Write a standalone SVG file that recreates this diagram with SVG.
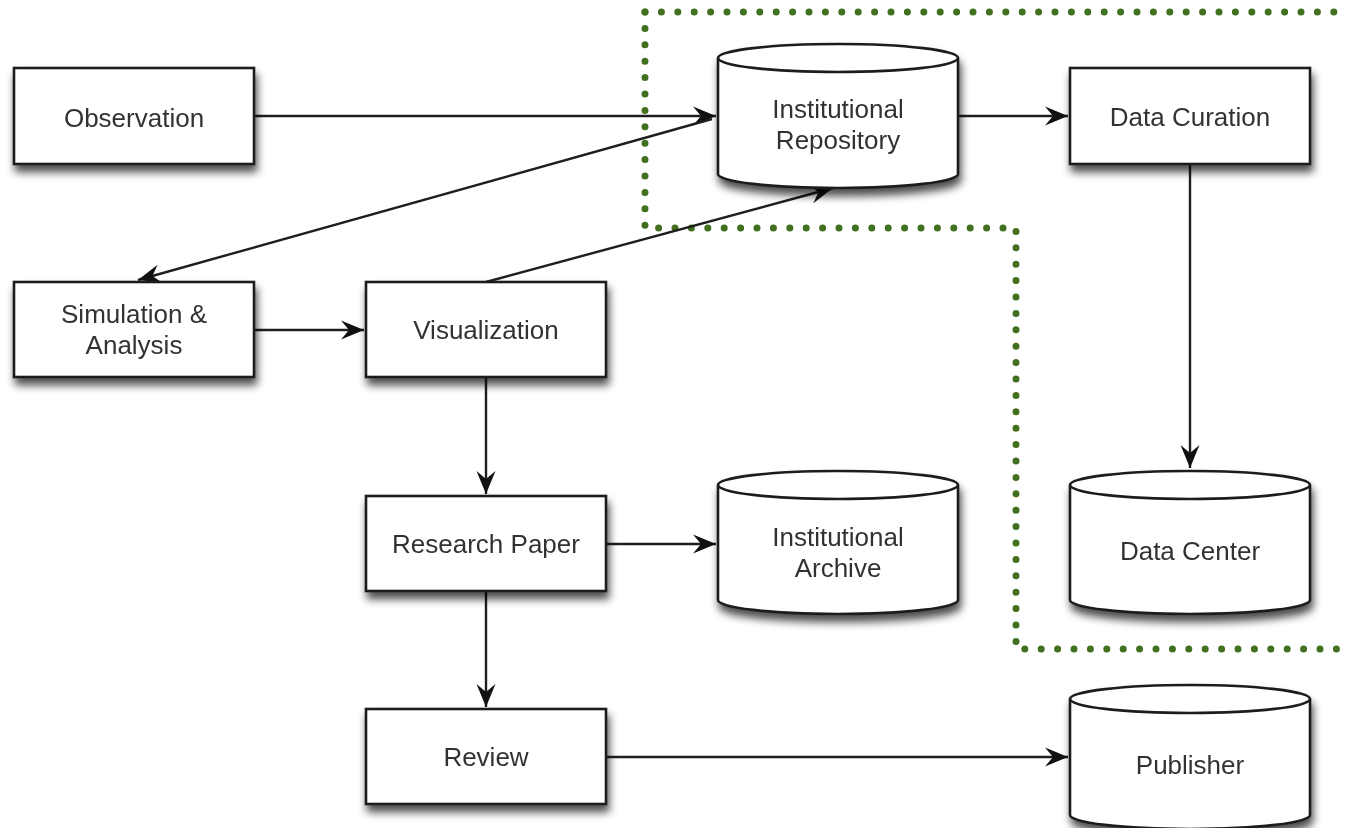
<svg xmlns="http://www.w3.org/2000/svg" width="1350" height="828" viewBox="0 0 1350 828">
<style>
.box{fill:#fff;stroke:#1e1e1e;stroke-width:2.6}
.cyl{fill:#fff;stroke:#1e1e1e;stroke-width:2.6}
.rim{fill:none;stroke:#1e1e1e;stroke-width:2.6}
.lbl{font-family:"Liberation Sans",Arial,Helvetica,sans-serif;font-size:26px;fill:#333;text-anchor:middle}
.conn{fill:none;stroke:#1e1e1e;stroke-width:2.4}
.region{fill:none;stroke:#41701f;stroke-width:7;stroke-dasharray:0 16.4;stroke-linecap:round}
</style>
<defs>
<filter id="sh" x="-20%" y="-20%" width="140%" height="150%">
<feGaussianBlur in="SourceAlpha" stdDeviation="4.5"/>
<feOffset dx="2" dy="7" result="b"/>
<feComponentTransfer><feFuncA type="linear" slope="0.7"/></feComponentTransfer>
<feMerge><feMergeNode/><feMergeNode in="SourceGraphic"/></feMerge>
</filter>
<marker id="ah" markerUnits="userSpaceOnUse" markerWidth="26" markerHeight="22" viewBox="-24 -11 26 22" refX="0" refY="0" orient="auto">
<path d="M0,0 L-23,-9.5 L-15,0 L-23,9.5 Z" fill="#111"/>
</marker>
</defs>
<rect width="1350" height="828" fill="#fff"/>

<g id="region">
<path class="region" d="M645,12 L1350,12"/>
<path class="region" d="M645,12 L645,228 L1016,228 L1016,649 L1350,649"/>
</g>

<g id="connectors">
<path class="conn" d="M254,116 L716,116" marker-end="url(#ah)"/>
<path class="conn" d="M712,119 L138,280" marker-end="url(#ah)"/>
<path class="conn" d="M486,282 L833,188" marker-end="url(#ah)"/>
<path class="conn" d="M254,330 L364,330" marker-end="url(#ah)"/>
<path class="conn" d="M958,116 L1068,116" marker-end="url(#ah)"/>
<path class="conn" d="M1190,164 L1190,468" marker-end="url(#ah)"/>
<path class="conn" d="M486,377 L486,494" marker-end="url(#ah)"/>
<path class="conn" d="M606,544 L716,544" marker-end="url(#ah)"/>
<path class="conn" d="M486,591 L486,707" marker-end="url(#ah)"/>
<path class="conn" d="M606,757 L1068,757" marker-end="url(#ah)"/>
</g>

<g id="observation" filter="url(#sh)">
<rect class="box" x="14" y="68" width="240" height="96"/>
<text class="lbl" x="134" y="127">Observation</text>
</g>

<g id="simulation" filter="url(#sh)">
<rect class="box" x="14" y="282" width="240" height="95"/>
<text class="lbl" x="134" y="323">Simulation &amp;</text>
<text class="lbl" x="134" y="354">Analysis</text>
</g>

<g id="visualization" filter="url(#sh)">
<rect class="box" x="366" y="282" width="240" height="95"/>
<text class="lbl" x="486" y="339">Visualization</text>
</g>

<g id="data-curation" filter="url(#sh)">
<rect class="box" x="1070" y="68" width="240" height="96"/>
<text class="lbl" x="1190" y="126">Data Curation</text>
</g>

<g id="research-paper" filter="url(#sh)">
<rect class="box" x="366" y="496" width="240" height="95"/>
<text class="lbl" x="486" y="553">Research Paper</text>
</g>

<g id="review" filter="url(#sh)">
<rect class="box" x="366" y="709" width="240" height="95"/>
<text class="lbl" x="486" y="766">Review</text>
</g>

<g id="institutional-repository" filter="url(#sh)">
<path class="cyl" d="M718,58 L718,174 A120,14 0 0 0 958,174 L958,58 A120,14 0 0 0 718,58 Z"/>
<path class="rim" d="M718,58 A120,14 0 0 0 958,58"/>
<text class="lbl" x="838" y="118">Institutional</text>
<text class="lbl" x="838" y="149">Repository</text>
</g>

<g id="institutional-archive" filter="url(#sh)">
<path class="cyl" d="M718,485 L718,600 A120,14 0 0 0 958,600 L958,485 A120,14 0 0 0 718,485 Z"/>
<path class="rim" d="M718,485 A120,14 0 0 0 958,485"/>
<text class="lbl" x="838" y="546">Institutional</text>
<text class="lbl" x="838" y="577">Archive</text>
</g>

<g id="data-center" filter="url(#sh)">
<path class="cyl" d="M1070,485 L1070,600 A120,14 0 0 0 1310,600 L1310,485 A120,14 0 0 0 1070,485 Z"/>
<path class="rim" d="M1070,485 A120,14 0 0 0 1310,485"/>
<text class="lbl" x="1190" y="560">Data Center</text>
</g>

<g id="publisher" filter="url(#sh)">
<path class="cyl" d="M1070,699 L1070,815 A120,14 0 0 0 1310,815 L1310,699 A120,14 0 0 0 1070,699 Z"/>
<path class="rim" d="M1070,699 A120,14 0 0 0 1310,699"/>
<text class="lbl" x="1190" y="774">Publisher</text>
</g>
</svg>
